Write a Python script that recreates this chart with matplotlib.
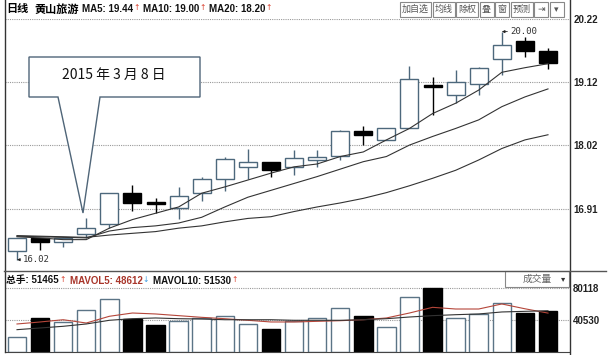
import matplotlib
matplotlib.use("Agg")
import matplotlib.pyplot as plt
from matplotlib.patches import Rectangle, Polygon
import numpy as np

plt.rcParams['font.family'] = ['Liberation Sans', 'Noto Sans CJK SC', 'DejaVu Sans']

# ---- data (24 trading days) ----
opens  = [16.17, 16.40, 16.33, 16.46, 16.65, 17.18, 17.00, 16.93, 17.19, 17.42, 17.64, 17.72,
          17.63, 17.76, 17.83, 18.27, 18.11, 18.31, 19.04, 18.90, 19.09, 19.52, 19.84, 19.66]
closes = [16.39, 16.33, 16.40, 16.58, 17.19, 17.01, 16.99, 17.13, 17.42, 17.78, 17.72, 17.58,
          17.79, 17.81, 18.27, 18.19, 18.31, 19.17, 19.03, 19.12, 19.37, 19.77, 19.67, 19.46]
highs  = [16.39, 16.40, 16.42, 16.74, 17.19, 17.33, 17.09, 17.29, 17.47, 17.82, 17.96, 17.73,
          17.93, 17.93, 18.28, 18.36, 18.31, 19.40, 19.20, 19.33, 19.38, 20.00, 19.91, 19.71]
lows   = [16.02, 16.19, 16.25, 16.39, 16.58, 16.87, 16.84, 16.73, 17.05, 17.22, 17.42, 17.46,
          17.50, 17.63, 17.76, 18.02, 18.11, 18.31, 18.54, 18.75, 18.90, 19.24, 19.55, 19.34]

ma5  = [16.42, 16.40, 16.37, 16.37, 16.57, 16.72, 16.83, 16.94, 17.18, 17.29, 17.41, 17.53,
        17.64, 17.69, 17.82, 17.90, 18.11, 18.31, 18.57, 18.75, 18.98, 19.29, 19.37, 19.44]
ma10 = [16.43, 16.42, 16.41, 16.40, 16.52, 16.58, 16.61, 16.66, 16.76, 16.94, 17.11, 17.23,
        17.35, 17.47, 17.60, 17.73, 17.82, 18.02, 18.17, 18.31, 18.46, 18.69, 18.86, 19.00]
ma20 = [16.44, 16.43, 16.42, 16.41, 16.45, 16.48, 16.51, 16.57, 16.61, 16.68, 16.74, 16.77,
        16.86, 16.94, 17.01, 17.09, 17.19, 17.31, 17.44, 17.58, 17.76, 17.96, 18.11, 18.20]

volumes = [18700, 42500, 37500, 52000, 66000, 41600, 34000, 39000, 42500, 44600, 35000, 28700,
           38300, 42500, 55000, 45400, 30800, 68300, 80118, 42500, 47500, 61200, 48700, 51465]
mavol5  = [35000, 37500, 40300, 36200, 44600, 48700, 47500, 45400, 43300, 41600, 39600, 37500,
           37500, 38300, 39100, 40300, 42500, 48700, 55800, 53700, 53700, 60000, 54000, 48612]
mavol10 = [27900, 30000, 32100, 35000, 39600, 41600, 42500, 41600, 41200, 40300, 40300, 40300,
           39600, 39600, 39600, 40300, 41600, 43700, 45400, 46600, 47500, 50000, 50800, 51530]

price_ticks = [20.22, 19.12, 18.02, 16.91]
vol_ticks = [80118, 40530]

stock_name = '黄山旅游'
ma_labels = ['MA5: 19.44', 'MA10: 19.00', 'MA20: 18.20']
ma_dirs = ['↑', '↑', '↑']
vol_labels = ['总手: 51465', 'MAVOL5: 48612', 'MAVOL10: 51530']
vol_dirs = ['↑', '↓', '↑']
callout_text = '2015 年 3 月 8 日'
buttons = ['加自选', '均线', '除权', '叠', '窗', '预测', '⇥', '▾']

# ---- colours ----
UP_EDGE = '#4d687c'
DOWN = '#000000'
GRID = '#9a9a9a'
RED = '#d9402e'
BLUE = '#3d9be0'

W, H = 612, 355
fig = plt.figure(figsize=(W / 100, H / 100), dpi=100)
renderer = fig.canvas.get_renderer()

def box(x0, y0, x1, y1):
    # pixel box (top-left origin) -> figure rect
    return [x0 / W, 1 - y1 / H, (x1 - x0) / W, (y1 - y0) / H]

x = np.arange(len(opens))
xlim = (-0.52, 23.91)

# ---- price panel ----
ax = fig.add_axes(box(5, 19, 569, 270))
ax.set_xlim(*xlim)
ax.set_ylim(15.84, 20.22)
for p in price_ticks:
    ax.axhline(p, color=GRID, lw=0.8, ls=(0, (1, 1)), zorder=0)

up = np.array(closes) >= np.array(opens)
for i in x:
    o, c, hi, lo = opens[i], closes[i], highs[i], lows[i]
    col = UP_EDGE if up[i] else DOWN
    ax.vlines(i, lo, hi, color=col, lw=1, zorder=2)
    bottom = min(o, c)
    height = max(abs(c - o), 0.03)
    ax.add_patch(Rectangle((i - 0.39, bottom), 0.78, height,
                           facecolor='white' if up[i] else DOWN,
                           edgecolor=col, lw=1, zorder=3))

for ma in (ma5, ma10, ma20):
    ax.plot(x, ma, color='#333333', lw=0.8, zorder=4)

lo_i = int(np.argmin(lows))
hi_i = int(np.argmax(highs))
arrow = dict(arrowstyle='-|>,head_length=0.25,head_width=0.12', color='#222', lw=0.6,
             shrinkA=0, shrinkB=0)
ax.annotate(f'{lows[lo_i]:.2f}', xy=(lo_i, lows[lo_i]), xytext=(4, 0), textcoords='offset points',
            va='center', ha='left', fontsize=6.5, family='DejaVu Sans Mono', color='#333',
            arrowprops=arrow, zorder=6)
ax.annotate(f'{highs[hi_i]:.2f}', xy=(hi_i, highs[hi_i]), xytext=(6, 0), textcoords='offset points',
            va='center', ha='left', fontsize=6.5, family='DejaVu Sans Mono', color='#333',
            arrowprops=arrow, zorder=6)

ax.yaxis.tick_right()
ax.set_yticks(price_ticks)
ax.set_yticklabels([f'{p:.2f}' for p in price_ticks])
ax.tick_params(axis='y', length=0, pad=3, labelsize=7, labelcolor='#222')
for lab in ax.get_yticklabels():
    lab.set_fontweight('bold')
ax.set_xticks([])
for s in ax.spines.values():
    s.set_visible(False)

# ---- volume panel ----
av = fig.add_axes(box(5, 271, 569, 352))
av.set_xlim(*xlim)
av.set_ylim(0, 101169)
for v in vol_ticks:
    av.axhline(v, color=GRID, lw=0.8, ls=(0, (1, 1)), zorder=0)
av.bar(x, volumes, width=0.8, color=['white' if u else DOWN for u in up],
       edgecolor=['#5b7486' if u else DOWN for u in up], lw=1, zorder=2)
av.plot(x, mavol5, color='#b5463a', lw=0.8, zorder=3)
av.plot(x, mavol10, color='#333333', lw=0.8, zorder=3)
av.yaxis.tick_right()
av.set_yticks(vol_ticks)
av.set_yticklabels([str(v) for v in vol_ticks])
av.tick_params(axis='y', length=0, pad=3, labelsize=7, labelcolor='#222')
for lab in av.get_yticklabels():
    lab.set_fontweight('bold')
av.set_xticks([])
for s in av.spines.values():
    s.set_visible(False)
av.spines['bottom'].set_visible(True)
av.spines['bottom'].set_color('#444')

# ---- overlay in pixel coordinates: frame, header, buttons, callout ----
ov = fig.add_axes([0, 0, 1, 1], zorder=10)
ov.set_xlim(0, W)
ov.set_ylim(H, 0)
ov.axis('off')

ov.plot([4.5, 4.5], [0, 352], color='#333', lw=1)
ov.plot([569.5, 569.5], [0, 355], color='#333', lw=1)
ov.plot([4, 606], [270.5, 270.5], color='#555', lw=1)


def put(xs, y, s, gap=0, **kw):
    t = ov.text(xs, y, s, va='center', **kw)
    bb = t.get_window_extent(renderer)
    return xs + bb.width + gap


# header line
hy = 9
nx = put(6, hy, '日线', gap=6, fontsize=8, fontweight='bold')
nx = put(nx, hy, stock_name, gap=3, fontsize=8, fontweight='bold')
for lbl, d in zip(ma_labels, ma_dirs):
    nx = put(nx, hy, lbl, gap=0.5, fontsize=7, fontweight='bold', color='#111')
    nx = put(nx, hy - 1, d, gap=3, fontsize=5.5, color=RED if d == '↑' else BLUE,
             family='DejaVu Sans')

# toolbar buttons
bx = 400
for lbl in buttons:
    fam = ['Noto Sans CJK SC', 'DejaVu Sans']
    t = ov.text(0, 0, lbl, fontsize=6.5, family=fam)
    w = t.get_window_extent(renderer).width
    t.remove()
    bw = max(w + 4, 14)
    ov.add_patch(Rectangle((bx, 2), bw, 15, facecolor='white', edgecolor='#888', lw=0.8))
    ov.text(bx + bw / 2, 9.5, lbl, fontsize=6.5, ha='center', va='center', color='#555',
            family=fam)
    bx += bw + 1.5

# volume header
vy = 280.5
nx = 6
for lbl, d, col in zip(vol_labels, vol_dirs, ['#111', '#a8352a', '#111']):
    nx = put(nx, vy, lbl, gap=0.5, fontsize=7, fontweight='bold', color=col)
    nx = put(nx, vy - 1, d, gap=4, fontsize=5.5, color=RED if d == '↑' else BLUE,
             family='DejaVu Sans')

ov.add_patch(Rectangle((505, 271), 64, 15.5, facecolor='white', edgecolor='#888', lw=0.8))
ov.text(537, 279, '成交量', fontsize=7, ha='center', va='center', color='#666')
ov.text(563, 278.5, '▾', fontsize=6, ha='center', va='center', color='#333',
        family='DejaVu Sans')

# date callout
pts = [(29, 57), (200, 57), (200, 97), (100, 97), (83, 213), (58, 97), (29, 97)]
ov.add_patch(Polygon(pts, closed=True, facecolor='white', edgecolor='#4f6578', lw=1))
ov.text(114, 75, callout_text, fontsize=10, ha='center', va='center', color='#111',
        family=['Noto Sans CJK SC', 'DejaVu Sans'])

fig.savefig('out.png', dpi=100)
